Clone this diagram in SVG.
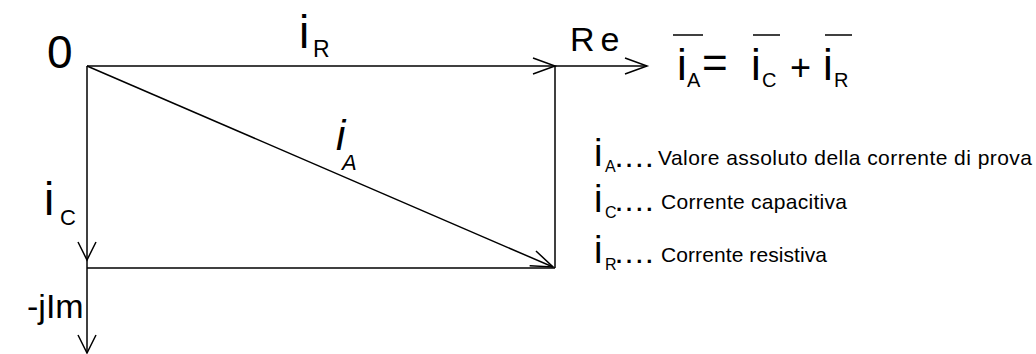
<svg xmlns="http://www.w3.org/2000/svg" width="1036" height="354" viewBox="0 0 1036 354">
<defs>
<style>
.ln{stroke:#000;stroke-width:1.5;fill:none}
.t{font-family:"Liberation Sans",Arial,sans-serif;fill:#000}
</style>
<marker id="arr" markerUnits="userSpaceOnUse" markerWidth="30" markerHeight="24" refX="0" refY="0" viewBox="-26 -12 30 24" orient="auto" overflow="visible">
<path d="M-22,-8 L0,0 L-22,8" fill="none" stroke="#000" stroke-width="1.5"/>
</marker>
<marker id="arrv" markerUnits="userSpaceOnUse" markerWidth="30" markerHeight="24" refX="0" refY="0" viewBox="-26 -12 30 24" orient="auto" overflow="visible">
<path d="M-18,-9 L0,0 L-18,9" fill="none" stroke="#000" stroke-width="1.5"/>
</marker>
</defs>
<rect width="1036" height="354" fill="#fff"/>
<g id="connectors">
<line class="ln" x1="87" y1="66" x2="555" y2="66" marker-end="url(#arr)"/>
<line class="ln" x1="555" y1="66" x2="647" y2="66" marker-end="url(#arr)"/>
<line class="ln" x1="555" y1="66" x2="555" y2="268"/>
<line class="ln" x1="87" y1="268" x2="555" y2="268"/>
<line class="ln" x1="87" y1="66" x2="87" y2="260" marker-end="url(#arrv)"/>
<line class="ln" x1="87" y1="260" x2="87" y2="353" marker-end="url(#arrv)"/>
<line class="ln" x1="87" y1="66" x2="553" y2="267" marker-end="url(#arr)"/>
</g>
<g id="origin"><text class="t" x="47" y="68" font-size="46">0</text></g>
<g id="label-iR"><text class="t" x="299" y="48" font-size="46">i</text><text class="t" x="313" y="57" font-size="23">R</text></g>
<g id="label-Re"><text class="t" x="570" y="51" font-size="34" letter-spacing="6">Re</text></g>
<g id="label-iC"><text class="t" x="44" y="215" font-size="46">i</text><text class="t" x="60" y="225" font-size="22">C</text></g>
<g id="label-jIm"><text class="t" x="27" y="318" font-size="34">-jIm</text></g>
<g id="label-iA"><text class="t" x="336" y="150" font-size="42" font-style="italic">i</text><text class="t" x="342" y="170" font-size="22" font-style="italic">A</text></g>
<g id="equation">
<text class="t" x="677" y="80" font-size="44">i</text><text class="t" x="687" y="87" font-size="20">A</text>
<text class="t" x="702" y="78" font-size="44">=</text>
<text class="t" x="751" y="80" font-size="44">i</text><text class="t" x="762" y="87" font-size="20">C</text>
<text class="t" x="790" y="80" font-size="36">+</text>
<text class="t" x="823" y="80" font-size="44">i</text><text class="t" x="834" y="87" font-size="20">R</text>
<line class="ln" x1="673" y1="35" x2="703" y2="35"/>
<line class="ln" x1="753" y1="35" x2="780" y2="35"/>
<line class="ln" x1="825" y1="35" x2="852" y2="35"/>
</g>
<g id="legend-iA">
<text class="t" x="594" y="166" font-size="38">i</text><text class="t" x="605" y="172" font-size="16">A</text>
<text class="t" x="616" y="167" font-size="22" font-weight="bold" letter-spacing="4">....</text>
<text class="t" x="658" y="165" font-size="21" textLength="374" lengthAdjust="spacing">Valore assoluto della corrente di prova</text>
</g>
<g id="legend-iC">
<text class="t" x="594" y="212" font-size="38">i</text><text class="t" x="605" y="218" font-size="16">C</text>
<text class="t" x="616" y="211" font-size="22" font-weight="bold" letter-spacing="4">....</text>
<text class="t" x="661" y="209" font-size="21" textLength="186" lengthAdjust="spacing">Corrente capacitiva</text>
</g>
<g id="legend-iR">
<text class="t" x="594" y="263" font-size="38">i</text><text class="t" x="605" y="270" font-size="16">R</text>
<text class="t" x="616" y="263" font-size="22" font-weight="bold" letter-spacing="4">....</text>
<text class="t" x="661" y="262" font-size="21" textLength="166" lengthAdjust="spacing">Corrente resistiva</text>
</g>
</svg>
